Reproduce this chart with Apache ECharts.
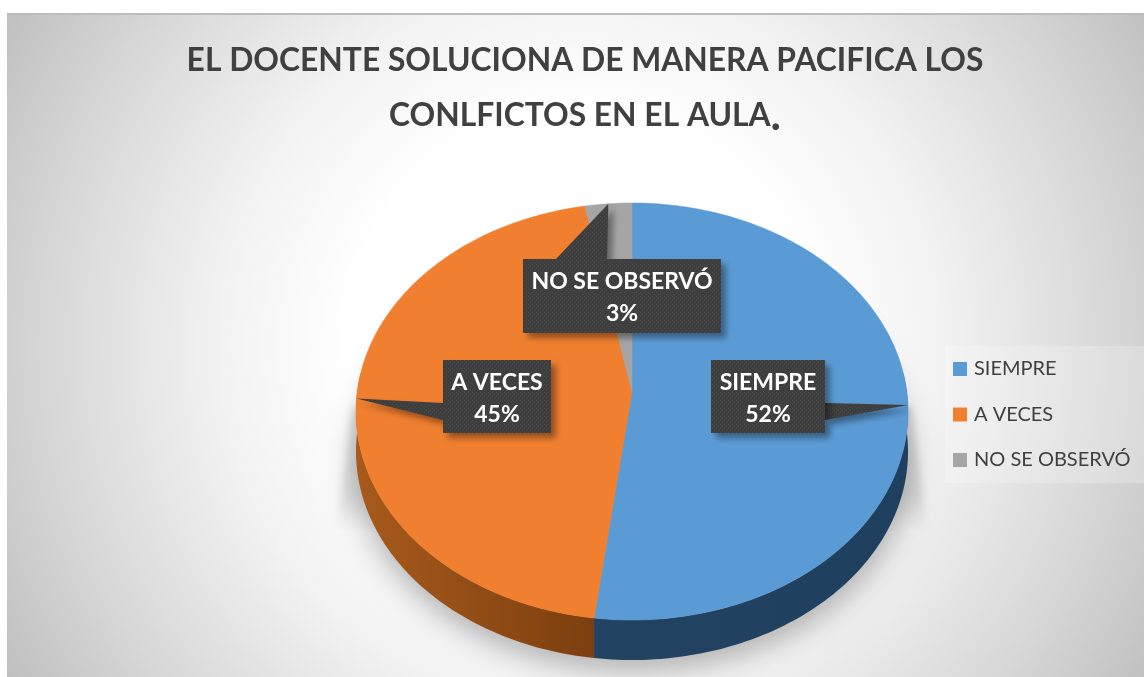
<!DOCTYPE html>
<html><head><meta charset="utf-8">
<style>html,body{margin:0;padding:0;background:#fff}#c{width:1144px;height:677px}</style>
<script src="https://cdn.jsdelivr.net/npm/echarts@6/dist/echarts.min.js"></script>
</head><body><div id="c"></div>
<script>
const titleLines = ['EL DOCENTE SOLUCIONA DE MANERA PACIFICA LOS', 'CONLFICTOS EN EL AULA'];
const categories = ['SIEMPRE', 'A VECES', 'NO SE OBSERVÓ'];
const percents = [52, 45, 3];
const topColors = ['#5b9bd5', '#f07f30', '#a5a5a5'];
const wallColors = [['#1f3f5e', '#234362'], ['#a85a1c', '#7c3f0f'], ['#6a6a6a', '#6a6a6a']];

// Tilted-disc projection of the pie
const CX = 632, CY = 392, KX = 274.8, KY = 206.7, PERSP = 0.0935, DEPTH = 40;
function project(t) {
  const u = Math.sin(t), v = Math.cos(t), d = 1 + PERSP * v;
  return [CX + KX * u / d, CY - KY * v / d];
}
function arc(a0, a1, dy) {
  const pts = [], n = Math.max(4, Math.ceil((a1 - a0) / 0.02));
  for (let i = 0; i <= n; i++) {
    const p = project(a0 + (a1 - a0) * i / n);
    pts.push([p[0], p[1] + dy]);
  }
  return pts;
}
// Callout boxes: [x, y, w, h] and pointer base corners
const boxes = [
  { rect: [711, 360, 114, 73], base: [[825, 403], [825, 420]] },
  { rect: [443, 360, 108, 73], base: [[443, 403], [443, 420]] },
  { rect: [523, 259, 198, 74], base: [[556, 259], [607, 259]] }
];
const patternCanvas = document.createElement('canvas');
patternCanvas.width = patternCanvas.height = 4;
(function () {
  const g = patternCanvas.getContext('2d');
  g.fillStyle = '#3e3e3e'; g.fillRect(0, 0, 4, 4);
  g.fillStyle = '#4b4b4b'; g.fillRect(0, 0, 1, 1); g.fillRect(2, 2, 1, 1);
})();
const total = percents.reduce((a, b) => a + b, 0);

function sliceRenderer(i) {
  return function (params, api) {
    const value = api.value(0);
    const before = percents.slice(0, i).reduce((a, b) => a + b, 0);
    const a0 = before / total * 2 * Math.PI, a1 = (before + value) / total * 2 * Math.PI;
    const children = [];
    const w0 = Math.max(a0, Math.PI * 0.47), w1 = Math.min(a1, Math.PI * 1.53);
    if (w1 > w0) {
      const top = arc(w0, w1, 0), bot = arc(w0, w1, DEPTH).reverse();
      children.push({
        type: 'polygon', z2: 1, shape: { points: top.concat(bot) },
        style: { fill: { type: 'linear', x: i === 1 ? 0 : 1, y: 0, x2: i === 1 ? 1 : 0, y2: 0,
          colorStops: [{ offset: 0, color: wallColors[i][0] }, { offset: 1, color: wallColors[i][1] }] } }
      });
    }
    children.push({
      type: 'polygon', z2: 2, shape: { points: [[CX, CY]].concat(arc(a0, a1, 0)) },
      style: { fill: topColors[i], stroke: topColors[i], lineWidth: 0.5 }
    });
    const tip = project((a0 + a1) / 2);
    const b = boxes[i], r = b.rect;
    const shadow = { shadowColor: 'rgba(0,0,0,0.38)', shadowBlur: 6, shadowOffsetX: 5, shadowOffsetY: 5 };
    children.push({
      type: 'polygon', z2: 10, shape: { points: [b.base[0], tip, b.base[1]] },
      style: Object.assign({ fill: { image: patternCanvas, repeat: 'repeat' } }, shadow)
    });
    children.push({
      type: 'rect', z2: 10, shape: { x: r[0], y: r[1], width: r[2], height: r[3] },
      style: Object.assign({ fill: { image: patternCanvas, repeat: 'repeat' } }, shadow)
    });
    children.push({
      type: 'text', z2: 11,
      style: { text: categories[i] + '\n' + value + '%', x: r[0] + r[2] / 2, y: r[1] + r[3] / 2 + 2,
        align: 'center', verticalAlign: 'middle', fill: '#fff', lineHeight: 32,
        font: 'bold 23px Lato' }
    });
    return { type: 'group', children };
  };
}

const OFF = 3000; // soft shadows are cast from shapes placed outside the page
const chart = echarts.init(document.getElementById('c'), null, { renderer: 'canvas' });
chart.setOption({
  animation: false,
  title: {
    text: titleLines[0] + '\n' + titleLines[1] + '{dot|.}',
    left: 580, top: 28, textAlign: 'center',
    textStyle: { fontFamily: 'Lato', fontWeight: 'bold', fontSize: 31.8, color: '#404040', lineHeight: 55,
      rich: { dot: { fontFamily: 'Lato', fontWeight: 'bold', fontSize: 44, color: '#404040', lineHeight: 55 } } }
  },
  legend: {
    data: categories, orient: 'vertical', left: 945, top: 346, icon: 'rect',
    itemWidth: 14, itemHeight: 14, itemGap: 21.5, padding: [11, 14, 11, 8],
    backgroundColor: 'rgba(255,255,255,0.22)', selectedMode: false,
    textStyle: { fontFamily: 'Lato', fontSize: 20, color: '#404040', lineHeight: 24, padding: [0, 0, 0, 2] }
  },
  graphic: [
    { type: 'rect', z: -5, shape: { x: 7, y: 13, width: 1137, height: 664 },
      style: { fill: { type: 'radial', global: true, x: 580, y: 345, r: 660,
        colorStops: [{ offset: 0, color: '#ffffff' }, { offset: 0.35, color: '#ffffff' },
          { offset: 0.55, color: '#f2f2f2' }, { offset: 0.8, color: '#d8d8d8' }, { offset: 1, color: '#c0c0c0' }] } } },
    { type: 'line', z: -4, shape: { x1: 7, y1: 14, x2: 1144, y2: 14 }, style: { stroke: '#bcbcbc', lineWidth: 2 } },
    { type: 'polygon', z: -3, shape: { points: [[352 - OFF, 408], [912 - OFF, 408], [927 - OFF, 532], [337 - OFF, 532]] },
      style: { fill: { type: 'linear', x: 0, y: 0, x2: 0, y2: 1, colorStops: [
          { offset: 0, color: 'rgba(0,0,0,0.12)' }, { offset: 0.7, color: 'rgba(0,0,0,0.10)' }, { offset: 1, color: 'rgba(0,0,0,0)' }] },
        shadowColor: 'rgba(0,0,0,1)', shadowBlur: 7, shadowOffsetX: OFF } },
    { type: 'ellipse', z: -3, shape: { cx: 632 - OFF, cy: 462, rx: 278, ry: 210 },
      style: { fill: '#000', shadowColor: 'rgba(0,0,0,0.27)', shadowBlur: 28, shadowOffsetX: OFF } }
  ],
  series: categories.map((name, i) => ({
    type: 'custom', name, coordinateSystem: 'none', silent: true,
    itemStyle: { color: topColors[i] },
    renderItem: sliceRenderer(i),
    data: [[percents[i]]]
  }))
});
</script></body></html>
